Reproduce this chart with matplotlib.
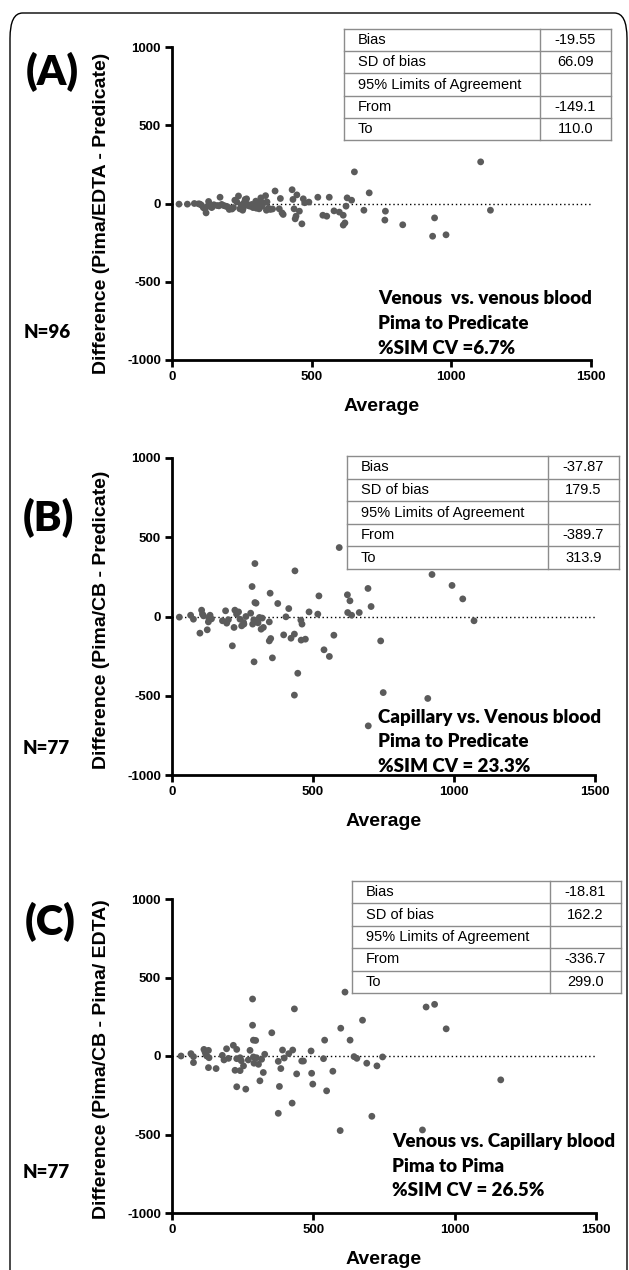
import matplotlib
matplotlib.use("Agg")
import matplotlib.pyplot as plt
from matplotlib.patches import FancyBboxPatch

W, H = 629, 1270
plt.rcParams["axes.unicode_minus"] = False

# ---- data ----
# panel A: venous vs venous (N=96)
a_avg = [25, 55, 80, 95, 100, 105, 112, 118, 122, 128, 131, 136, 142, 145, 150, 162, 168, 172, 178,
         185, 192, 198, 205, 212, 215, 220, 225, 232, 238, 243, 248, 253, 255, 258, 262, 267, 270,
         275, 280, 286, 290, 296, 300, 302, 308, 312, 318, 322, 328, 335, 338, 340, 345, 352, 360,
         369, 384, 388, 394, 398, 430, 433, 437, 441, 444, 447, 456, 465, 470, 475, 490, 522, 540,
         554, 563, 580, 599, 613, 613, 619, 623, 627, 643, 653, 687, 706, 764, 762, 826, 940, 933,
         981, 1105, 1140]
a_diff = [-4, -4, 0, -2, -4, -10, -26, -34, -60, -17, 13, -10, -26, -20, -8, -13, -15, 40, -6,
          -13, -17, -20, -38, -30, -35, -26, 21, 10, 48, -34, -10, -43, -30, 5, 26, 30, -5,
          -15, -17, -6, -26, -21, 15, -30, 4, -34, 36, -17, 4, 50, -43, 10, -30, -38, -35,
          80, -34, 32, -60, -70, 88, 26, -34, -98, -81, 55, -49, -130, 30, 5, 9, 40, -75,
          -81, 40, -47, -55, -75, -138, -124, -17, 36, 21, 202, -43, 68, -49, -106, -136, -92, -209,
          -200, 266, -43]

# panel B: capillary vs venous (N=77)
b_avg = [26, 66, 76, 99, 105, 108, 112, 125, 129, 131, 135, 140, 179, 190, 194, 200, 214, 220, 223,
         229, 236, 241, 247, 254, 255, 262, 279, 284, 286, 290, 291, 294, 294, 298, 305, 310, 316,
         320, 324, 345, 348, 345, 350, 356, 375, 396, 404, 414, 422, 434, 436, 446, 434, 457, 461,
         458, 473, 486, 517, 521, 539, 558, 574, 593, 622, 631, 623, 637, 664, 695, 706, 740, 749,
         696, 907, 922, 993, 1031, 1071]
b_diff = [-4, 8, -17, -105, 40, 15, 4, -84, -34, -13, 8, -15, -27, 36, -42, -20, -185, -69, 40,
          15, 29, -17, -59, -38, -48, 0, 21, 189, -48, -21, -286, 334, 88, 84, -40, -6, -80,
          -10, -69, -34, 147, -154, -139, -261, 82, -116, -2, 50, -137, -111, 288, -358, -496, -23, -48,
          -149, -143, 29, 15, 130, -210, -252, -118, 435, 137, 99, 25, 8, 25, 177, 63, -154, -480,
          -690, -517, 265, 196, 111, -27]

# panel C: venous vs capillary (N=77)
c_avg = [32, 67, 76, 76, 113, 117, 120, 123, 129, 129, 131, 156, 178, 184, 193, 200, 217, 229, 223,
         229, 229, 241, 241, 245, 253, 261, 270, 276, 285, 285, 288, 296, 288, 290, 299, 306, 311,
         317, 323, 328, 353, 376, 376, 380, 385, 391, 397, 413, 425, 427, 433, 441, 459, 465, 492,
         494, 498, 536, 540, 547, 569, 595, 597, 612, 630, 644, 654, 674, 689, 707, 725, 745, 886,
         899, 929, 970, 1163]
c_diff = [0, 15, -4, -42, 42, 25, 10, 0, 36, -74, -11, -80, 4, -25, 46, -15, 68, 42, -91,
          -17, -196, -11, -93, -30, -63, -211, -25, 36, 363, 196, 101, 99, -6, -46, -11, -53, -158,
          -21, -105, 11, 148, -34, -365, -194, -80, 38, -13, 15, -300, 38, 300, -114, -32, -32, 32,
          -110, -179, -17, 101, -222, -97, -475, 177, 407, 101, -4, -15, 228, -46, -384, -63, -6, -471,
          312, 329, 173, -152]

table_labels = ["Bias", "SD of bias", "95% Limits of Agreement", "From", "To"]
a_stats = ["-19.55", "66.09", "", "-149.1", "110.0"]
b_stats = ["-37.87", "179.5", "", "-389.7", "313.9"]
c_stats = ["-18.81", "162.2", "", "-336.7", "299.0"]

panels = [
    dict(tag="(A)", n="N=96", x=a_avg, y=a_diff, stats=a_stats,
         ylabel="Difference (Pima/EDTA - Predicate)",
         note=["Venous  vs. venous blood", "Pima to Predicate", "%SIM CV =6.7%"],
         ax_px=(172, 47, 591, 360), tab_px=(344, 29, 540, 611, 140),
         tag_px=(52, 72), n_px=(47, 333), note_px=(378, 299), lab_y=0.47),
    dict(tag="(B)", n="N=77", x=b_avg, y=b_diff, stats=b_stats,
         ylabel="Difference (Pima/CB - Predicate)",
         note=["Capillary vs. Venous blood", "Pima to Predicate", "%SIM CV = 23.3%"],
         ax_px=(172, 458, 595, 775), tab_px=(347, 456, 548, 619, 569),
         tag_px=(48, 518), n_px=(46, 748), note_px=(378, 717), lab_y=0.49),
    dict(tag="(C)", n="N=77", x=c_avg, y=c_diff, stats=c_stats,
         ylabel="Difference (Pima/CB - Pima/ EDTA)",
         note=["Venous vs. Capillary blood", "Pima to Pima", "%SIM CV = 26.5%"],
         ax_px=(172, 899, 596, 1213), tab_px=(352, 881, 550, 621, 993),
         tag_px=(50, 922), n_px=(46, 1173), note_px=(392, 1142), lab_y=0.49),
]

arial = ["Liberation Sans", "DejaVu Sans"]
calibri = ["Lato", "DejaVu Sans"]

fig = plt.figure(figsize=(W / 100, H / 100), dpi=100)


def fx(px):
    return px / W


def fy(py):
    return 1 - py / H


# outer rounded frame
frame = FancyBboxPatch((fx(10), fy(1300)), fx(617), (1300 - 13) / H,
                       boxstyle="round,pad=0,rounding_size=0.02",
                       transform=fig.transFigure, fill=False, edgecolor="black", lw=1.0)
fig.patches.append(frame)

for p in panels:
    l, t, r, b = p["ax_px"]
    ax = fig.add_axes([fx(l), fy(b), (r - l) / W, (b - t) / H])
    ax.scatter(p["x"], p["y"], s=24, color="#5b5b5b", edgecolors="none", zorder=3)
    ax.axhline(0, color="black", ls=(0, (1, 2)), lw=1.0, zorder=2)
    ax.set_xlim(0, 1500)
    ax.set_ylim(-1000, 1000)
    ax.set_xticks([0, 500, 1000, 1500])
    ax.set_yticks([-1000, -500, 0, 500, 1000])
    for s in ["top", "right"]:
        ax.spines[s].set_visible(False)
    for s in ["left", "bottom"]:
        ax.spines[s].set_linewidth(2.0)
    ax.tick_params(direction="out", length=5, width=2.0, pad=3)
    for lab in ax.get_xticklabels() + ax.get_yticklabels():
        lab.set_family(arial)
        lab.set_fontweight("bold")
        lab.set_fontsize(9.5)
    ax.set_xlabel("Average", family=arial, fontweight="bold", fontsize=14)
    ax.xaxis.set_label_coords(0.5, -47 / (b - t))
    ax.xaxis.label.set_va("center")
    ax.set_ylabel(p["ylabel"], family=arial, fontweight="bold", fontsize=14)
    ax.yaxis.set_label_coords((102 - l) / (r - l), p["lab_y"])
    ax.yaxis.label.set_va("center")

    # stats table
    tl, tt, tdiv, tr, tb = p["tab_px"]
    tax = fig.add_axes([fx(tl), fy(tb), (tr - tl) / W, (tb - tt) / H])
    tax.set_xlim(tl, tr)
    tax.set_ylim(tb, tt)
    tax.axis("off")
    nrow = len(table_labels)
    rh = (tb - tt) / nrow
    for i in range(nrow + 1):
        tax.plot([tl, tr], [tt + i * rh] * 2, color="#8c8c8c", lw=1.0, clip_on=False)
    for xv in [tl, tdiv, tr]:
        tax.plot([xv, xv], [tt, tb], color="#8c8c8c", lw=1.0, clip_on=False)
    for i, (lab, val) in enumerate(zip(table_labels, p["stats"])):
        yc = tt + (i + 0.5) * rh
        tax.text(tl + 14, yc, lab, family=arial, fontsize=10.5, va="center", ha="left")
        tax.text((tdiv + tr) / 2, yc, val, family=arial, fontsize=10.5, va="center", ha="center")

    fig.text(fx(p["tag_px"][0]), fy(p["tag_px"][1]), p["tag"], family=calibri,
             fontweight="heavy", fontsize=30, ha="center", va="center")
    fig.text(fx(p["n_px"][0]), fy(p["n_px"][1]), p["n"], family=calibri,
             fontweight="heavy", fontsize=13.5, ha="center", va="center")
    nx, ny = p["note_px"]
    for k, line in enumerate(p["note"]):
        fig.text(fx(nx), fy(ny + k * 24.5), line, family=calibri,
                 fontweight="heavy", fontsize=13.5, ha="left", va="center")

fig.savefig("out.png", dpi=100)
